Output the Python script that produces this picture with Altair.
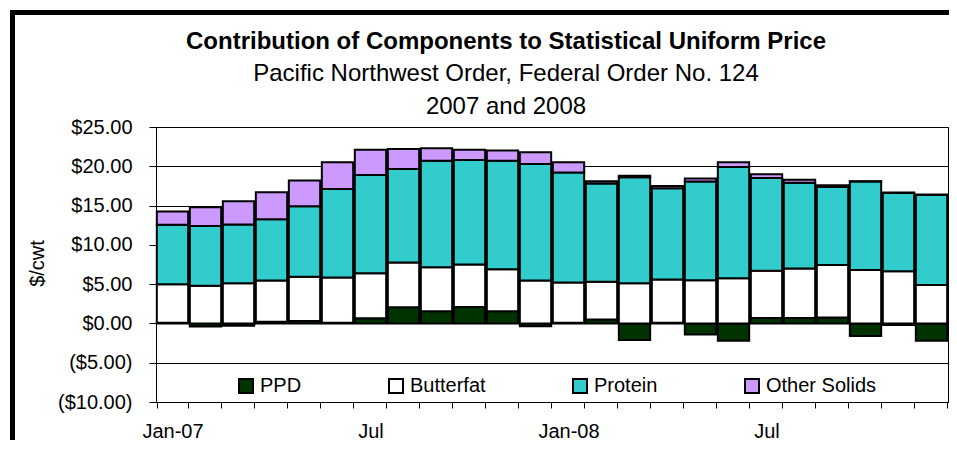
import altair as alt
import pandas as pd

months = ["Jan-07", "Feb-07", "Mar-07", "Apr-07", "May-07", "Jun-07",
          "Jul-07", "Aug-07", "Sep-07", "Oct-07", "Nov-07", "Dec-07",
          "Jan-08", "Feb-08", "Mar-08", "Apr-08", "May-08", "Jun-08",
          "Jul-08", "Aug-08", "Sep-08", "Oct-08", "Nov-08", "Dec-08"]

ppd = [0.1, -0.4, -0.3, 0.2, 0.3, 0.1, 0.65, 2.05, 1.55, 2.1, 1.55, -0.35,
       0.1, 0.5, -2.1, 0.1, -1.4, -2.2, 0.7, 0.7, 0.75, -1.6, -0.2, -2.2]
butterfat = [4.9, 4.8, 5.1, 5.25, 5.65, 5.75, 5.75, 5.7, 5.6, 5.4, 5.35, 5.45,
             5.1, 4.8, 5.1, 5.5, 5.5, 5.75, 6.0, 6.3, 6.7, 6.8, 6.65, 4.9]
protein = [7.55, 7.6, 7.5, 7.8, 8.95, 11.25, 12.5, 11.9, 13.55, 13.3, 13.8, 14.85,
           14.0, 12.5, 13.5, 11.6, 12.55, 14.15, 11.8, 10.9, 9.95, 11.25, 9.95, 11.45]
other_solids = [1.7, 2.4, 2.95, 3.45, 3.3, 3.4, 3.2, 2.55, 1.6, 1.3, 1.3, 1.5,
                1.3, 0.3, 0.2, 0.3, 0.4, 0.6, 0.5, 0.4, 0.2, 0.05, 0.05, 0.05]

components = ["PPD", "Butterfat", "Protein", "Other Solids"]
colors = ["#003300", "#FFFFFF", "#33CCCC", "#CC99FF"]
y_ticks = [-10, -5, 0, 5, 10, 15, 20, 25]

rows = []
for i, m in enumerate(months):
    for k, (name, vals) in enumerate(zip(components, [ppd, butterfat, protein, other_solids])):
        rows.append({"month": m, "component": name, "value": vals[i], "rank": k})
df = pd.DataFrame(rows)

FONT = "Liberation Sans"

bars = alt.Chart(df).mark_bar(stroke="black", strokeWidth=2).encode(
    x=alt.X(
        "month:N", sort=months,
        scale=alt.Scale(paddingInner=0.05, paddingOuter=0.025),
        axis=alt.Axis(
            title=None, labelAngle=0, tickBand="extent", grid=False,
            labelExpr="datum.value == 'Jan-07' || datum.value == 'Jan-08' ? datum.value : (datum.value == 'Jul-07' || datum.value == 'Jul-08' ? 'Jul' : '')",
            tickSize=6, labelPadding=13, labelFontSize=20, labelFont=FONT,
            labelColor="black", domainColor="black", tickColor="black",
        ),
    ),
    y=alt.Y(
        "value:Q", stack="zero",
        scale=alt.Scale(domain=[-10, 25], nice=False, zero=False),
        axis=alt.Axis(
            values=y_ticks, grid=True, gridColor="black", gridWidth=1,
            labelExpr="datum.value < 0 ? '($' + format(-datum.value, '.2f') + ')' : '$' + format(datum.value, '.2f')",
            tickSize=7, labelPadding=17, labelFontSize=20, labelFont=FONT,
            labelColor="black", domainColor="black", tickColor="black",
            title="$/cwt", titleFont=FONT, titleFontSize=20, titleFontWeight="normal",
            titleColor="black", titleX=-119, titleY=136, titleAngle=-90,
            titleAlign="center", titleBaseline="middle",
        ),
    ),
    color=alt.Color(
        "component:N",
        scale=alt.Scale(domain=components, range=colors),
        legend=alt.Legend(
            title=None, orient="none", legendX=80, legendY=249, direction="horizontal",
            symbolType="square", symbolSize=196, symbolStrokeColor="black",
            symbolStrokeWidth=2, labelFontSize=20, labelFont=FONT,
            labelColor="black", columnPadding=83, labelOffset=4,
        ),
    ),
    order=alt.Order("rank:Q"),
)

frame_df = pd.DataFrame({"k": [0]})
left_border = alt.Chart(frame_df).mark_rule(color="black", strokeWidth=5).encode(
    x=alt.value(-143.5), y=alt.value(-117), y2=alt.value(330)
)
top_border = alt.Chart(frame_df).mark_rule(color="black", strokeWidth=5).encode(
    x=alt.value(-146), x2=alt.value(802), y=alt.value(-114.5)
)

chart = alt.layer(bars, left_border, top_border).properties(
    width=792, height=275,
    autosize=alt.AutoSizeParams(type="none"),
    padding={"left": 148, "top": 119, "right": 1, "bottom": 38},
    background="white",
    title=alt.TitleParams(
        text="Contribution of Components to Statistical Uniform Price",
        subtitle=["Pacific Northwest Order, Federal Order No. 124", "2007 and 2008"],
        font=FONT, fontSize=24, fontWeight="bold", color="black",
        subtitleFont=FONT, subtitleFontSize=24, subtitleColor="black",
        subtitleLineHeight=33, subtitlePadding=8, anchor="middle", dx=-46, offset=-111,
    ),
).configure_view(stroke="black", strokeWidth=1)

chart.save("out.html", embed_options={"renderer": "svg", "actions": False})
